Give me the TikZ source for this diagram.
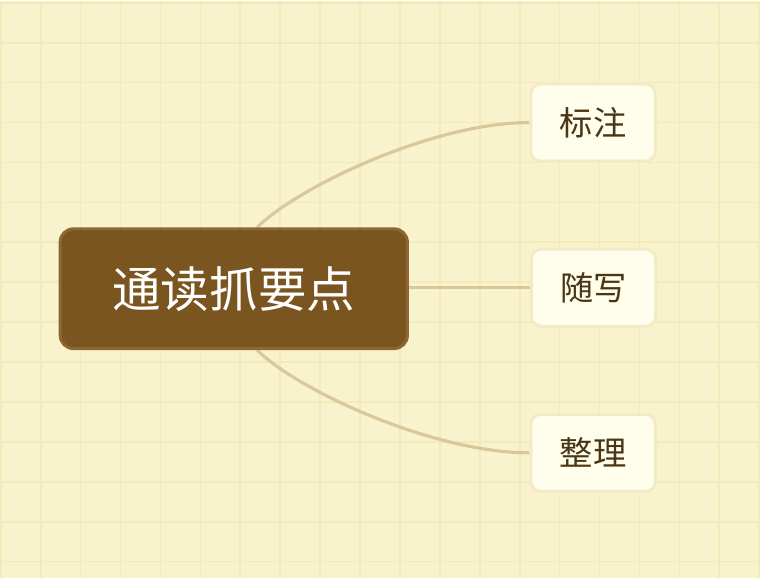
\documentclass[tikz,border=0pt]{standalone}
\usepackage{fontspec}
\newfontfamily\cjk{Noto Sans CJK SC}
\usetikzlibrary{backgrounds}
\definecolor{paper}{HTML}{F8F3CD}
\definecolor{gridc}{HTML}{F3EABA}
\definecolor{mainfill}{HTML}{7B5520}
\definecolor{mainborder}{HTML}{8E6633}
\definecolor{subfill}{HTML}{FFFDEC}
\definecolor{subborder}{HTML}{F3EBC6}
\definecolor{subtext}{HTML}{4A3515}
\definecolor{connc}{HTML}{D9C89C}
\tikzset{
  mainnode/.style={draw=mainborder, line width=2.25pt, fill=mainfill, rounded corners=10pt,
    minimum width=261pt, minimum height=90pt, inner sep=0pt, text=white,
    font=\cjk\fontsize{36.5}{40}\selectfont},
  subnode/.style={draw=subborder, line width=2.25pt, fill=subfill, rounded corners=7.5pt,
    minimum width=93.5pt, minimum height=58pt, inner sep=0pt, text=subtext,
    font=\cjk\fontsize{25}{28}\selectfont},
  conn/.style={draw=connc, line width=2.4pt}
}
\begin{document}
\begin{tikzpicture}[x=0.75pt,y=-0.75pt]
\begin{scope}[on background layer]
  \fill[paper] (0,0) rectangle (760,578);
  \foreach \i in {0,40,...,760} \draw[gridc, line width=1.2pt] (\i,0) -- (\i,578);
  \foreach \j in {2,42,...,562} \draw[gridc, line width=1.2pt] (0,\j) -- (760,\j);
\end{scope}
\useasboundingbox (0,0) rectangle (760,578);
\node[mainnode] (c) at (233.5,288.5) {通读抓要点};
\node[subnode] (n1) at (593.5,122) {标注};
\node[subnode] (n2) at (594,287.5) {随写};
\node[subnode] (n3) at (593.5,453) {整理};
\begin{scope}[on background layer]
  \draw[conn] ([xshift=17.6pt]c.north) .. controls +(40,-40) and +(-97,0) .. (n1.west);
  \draw[conn] (c.east |- n2.west) -- (n2.west);
  \draw[conn] ([xshift=17.6pt]c.south) .. controls +(40,40) and +(-97,0) .. (n3.west);
\end{scope}
\end{tikzpicture}
\end{document}
